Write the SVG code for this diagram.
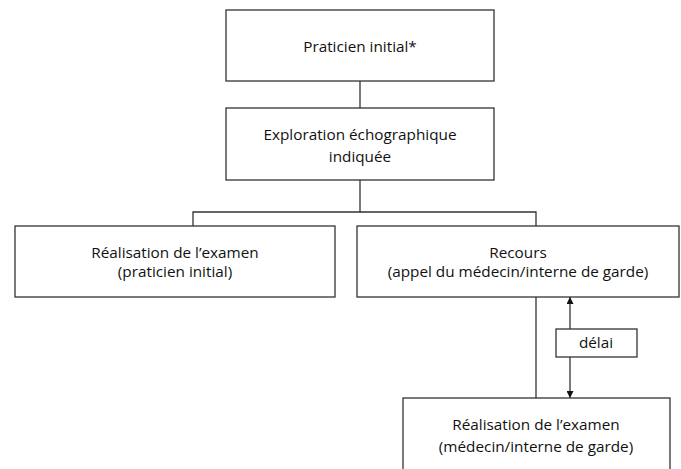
<svg xmlns="http://www.w3.org/2000/svg" width="681" height="469" viewBox="0 0 681 469">
<style>
.box{fill:#fff;stroke:#333;stroke-width:1.3}
.ln{fill:none;stroke:#333;stroke-width:1.3}
text{font-family:"Open Sans","Noto Sans",sans-serif;font-size:15.3px;fill:#111;text-anchor:middle}
</style>
<defs>
<marker id="ah" viewBox="0 0 10 10" refX="10" refY="5" markerWidth="7" markerHeight="7" orient="auto-start-reverse" markerUnits="userSpaceOnUse">
<path d="M0,0 L10,5 L0,10 z" fill="#111"/>
</marker>
</defs>
<rect width="681" height="469" fill="#fff"/>
<g id="connectors">
<line class="ln" x1="360" y1="81" x2="360" y2="108"/>
<polyline class="ln" points="360,180 360,212 193,212 193,226"/>
<polyline class="ln" points="360,212 536,212 536,226"/>
<line class="ln" x1="536" y1="297" x2="536" y2="398"/>
<line class="ln" x1="570" y1="297" x2="570" y2="329" marker-start="url(#ah)"/>
<line class="ln" x1="570" y1="357" x2="570" y2="398" marker-end="url(#ah)"/>
</g>
<g id="n1"><rect class="box" x="226" y="10" width="268" height="71"/><text x="360" y="52">Praticien initial*</text></g>
<g id="n2"><rect class="box" x="226" y="108" width="268" height="72"/><text x="360" y="140">Exploration échographique</text><text x="360" y="162">indiquée</text></g>
<g id="n3"><rect class="box" x="15" y="226" width="320" height="71"/><text x="175" y="258">Réalisation de l’examen</text><text x="175" y="277">(praticien initial)</text></g>
<g id="n4"><rect class="box" x="357" y="226" width="322" height="71"/><text x="518" y="258">Recours</text><text x="518" y="277">(appel du médecin/interne de garde)</text></g>
<g id="n5"><rect class="box" x="556" y="329" width="81" height="28"/><text x="596" y="348">délai</text></g>
<g id="n6"><rect class="box" x="403" y="398" width="267" height="72"/><text x="536" y="430">Réalisation de l’examen</text><text x="536" y="452">(médecin/interne de garde)</text></g>
</svg>
